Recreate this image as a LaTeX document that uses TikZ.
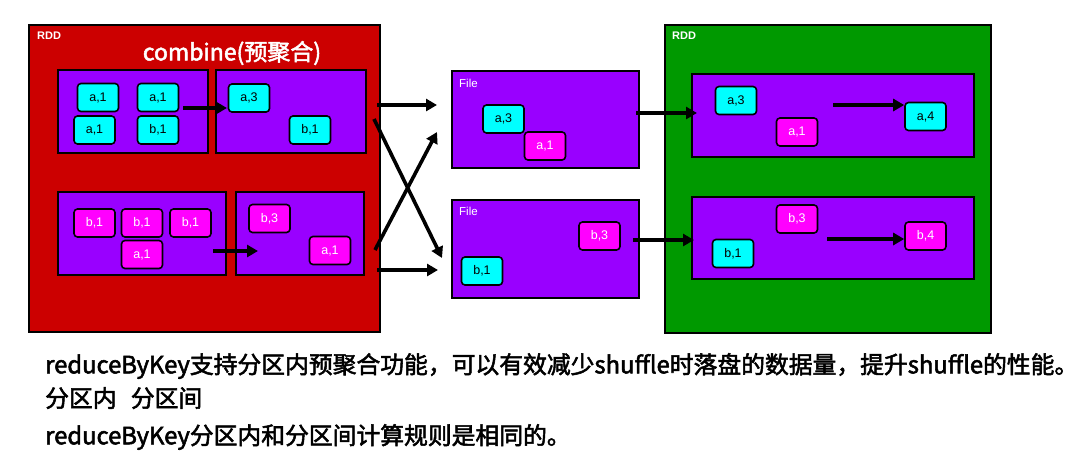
\documentclass[tikz,border=0pt]{standalone}
\usepackage{fontspec}
\setmainfont{Liberation Sans}
\newfontfamily\cjk{Noto Sans CJK SC}
\newfontfamily\cjkb{Noto Sans CJK SC}[FakeBold=2.2]
\usetikzlibrary{arrows.meta}
\definecolor{rddred}{RGB}{204,0,0}
\definecolor{rddgreen}{RGB}{0,153,0}
\definecolor{part}{RGB}{153,0,255}
\definecolor{kvcyan}{RGB}{0,255,255}
\definecolor{kvmag}{RGB}{255,0,255}
\tikzset{
  rddbox/.style={draw=black, line width=1.6pt, inner sep=0pt},
  partbox/.style={draw=black, fill=part, line width=2.2pt, inner sep=0pt},
  kv/.style={draw=black, line width=1.6pt, rounded corners=3.5pt, inner sep=0pt,
    minimum width=41pt, minimum height=28pt, font=\fontsize{12.5}{12.5}\selectfont},
  kvc/.style={kv, fill=kvcyan, text=black},
  kvm/.style={kv, fill=kvmag, text=white},
  lbl/.style={text=white, inner sep=0pt, anchor=north west, font=\bfseries\fontsize{11}{11}\selectfont},
  flow/.style={line width=3.6pt, -{Triangle[length=11pt,width=12pt]}},
  note/.style={anchor=west, inner sep=0pt, font=\cjkb\fontsize{23.8}{23.8}\selectfont}
}
\begin{document}
\begin{tikzpicture}[x=1pt,y=-1pt]
\useasboundingbox (0,0) rectangle (1086,469);
\fill[white] (0,0) rectangle (1086,469);
% RDD boxes
\node[rddbox, fill=rddred, minimum width=351pt, minimum height=307pt] (rdd1) at (204.5,178.5) {};
\node[rddbox, fill=rddgreen, minimum width=326pt, minimum height=308pt] (rdd2) at (828,179) {};
\node[lbl] (rddl1) at (37,32) {RDD};
\node[lbl] (rddl2) at (672,32) {RDD};
\node[text=white, inner sep=0pt, font=\cjkb\fontsize{23}{23}\selectfont] (comb) at (232,53) {combine(预聚合)};
% partitions
\node[partbox, minimum width=150pt, minimum height=83pt] (p1) at (133,111.5) {};
\node[partbox, minimum width=150pt, minimum height=83pt] (p2) at (291,111.5) {};
\node[partbox, minimum width=168pt, minimum height=83pt] (p3) at (142,233.5) {};
\node[partbox, minimum width=128pt, minimum height=83pt] (p4) at (300,233.5) {};
\node[partbox, minimum width=187pt, minimum height=97pt] (f1) at (545.5,119.5) {};
\node[partbox, minimum width=187pt, minimum height=98pt] (f2) at (545.5,249) {};
\node[partbox, minimum width=282pt, minimum height=83pt] (g1) at (833,115.5) {};
\node[partbox, minimum width=282pt, minimum height=82pt] (g2) at (833,238) {};
\node[lbl, font=\fontsize{11.5}{11.5}\selectfont] (fl1) at (459,79) {File};
\node[lbl, font=\fontsize{11.5}{11.5}\selectfont] (fl2) at (459,207) {File};
% key-value boxes
\node[kvc] (k1) at (98,97.5) {a,1};
\node[kvc] (k2) at (158,97.5) {a,1};
\node[kvc] (k3) at (94.5,130) {a,1};
\node[kvc] (k4) at (158,130) {b,1};
\node[kvc] (k5) at (249,98) {a,3};
\node[kvc] (k6) at (310,130) {b,1};
\node[kvm] (k7) at (94.5,223) {b,1};
\node[kvm] (k8) at (142,223) {b,1};
\node[kvm] (k9) at (190.5,223) {b,1};
\node[kvm] (k10) at (142,254.5) {a,1};
\node[kvm] (k11) at (269.5,218.5) {b,3};
\node[kvm] (k12) at (330,250.5) {a,1};
\node[kvc] (k13) at (503.5,119) {a,3};
\node[kvm] (k14) at (545,146) {a,1};
\node[kvm] (k15) at (599.5,236) {b,3};
\node[kvc] (k16) at (482,271) {b,1};
\node[kvc] (k17) at (736,100.5) {a,3};
\node[kvm] (k18) at (797,132) {a,1};
\node[kvc] (k19) at (925.5,116.5) {a,4};
\node[kvm] (k20) at (797,219) {b,3};
\node[kvc] (k21) at (733,253.5) {b,1};
\node[kvm] (k22) at (925.5,236) {b,4};
% arrow end points
\coordinate (a1s) at (183,108); \coordinate (a1e) at (227,108);
\coordinate (a2s) at (213,251); \coordinate (a2e) at (258,251);
\coordinate (a3s) at (833,105);
\coordinate (a4s) at (827,239);
\coordinate (s1) at (377,105); \coordinate (e1) at (437,105);
\coordinate (s2) at (374,119); \coordinate (e2) at (442,258);
\coordinate (s3) at (375,250); \coordinate (e3) at (437,132);
\coordinate (s4) at (377,270); \coordinate (e4) at (438,270);
\coordinate (s5) at (636,113); \coordinate (e5) at (697,113);
\coordinate (s6) at (633,240); \coordinate (e6) at (694,240);
\draw[flow] (a1s) -- (a1e);
\draw[flow] (a2s) -- (a2e);
\draw[flow] (a3s) -- (k19.west |- a3s);
\draw[flow] (a4s) -- (k22.west |- a4s);
\draw[flow] (s1) -- (e1);
\draw[flow] (s2) -- (e2);
\draw[flow] (s3) -- (e3);
\draw[flow] (s4) -- (e4);
\draw[flow] (s5) -- (e5);
\draw[flow] (s6) -- (e6);
% notes
\node[note] (n1) at (45,366) {reduceByKey支持分区内预聚合功能，可以有效减少shuffle时落盘的数据量，提升shuffle的性能。};
\node[note] (n2) at (45,398) {分区内\hspace{0.6em}分区间};
\node[note] (n3) at (45,437) {reduceByKey分区内和分区间计算规则是相同的。};
\end{tikzpicture}
\end{document}
